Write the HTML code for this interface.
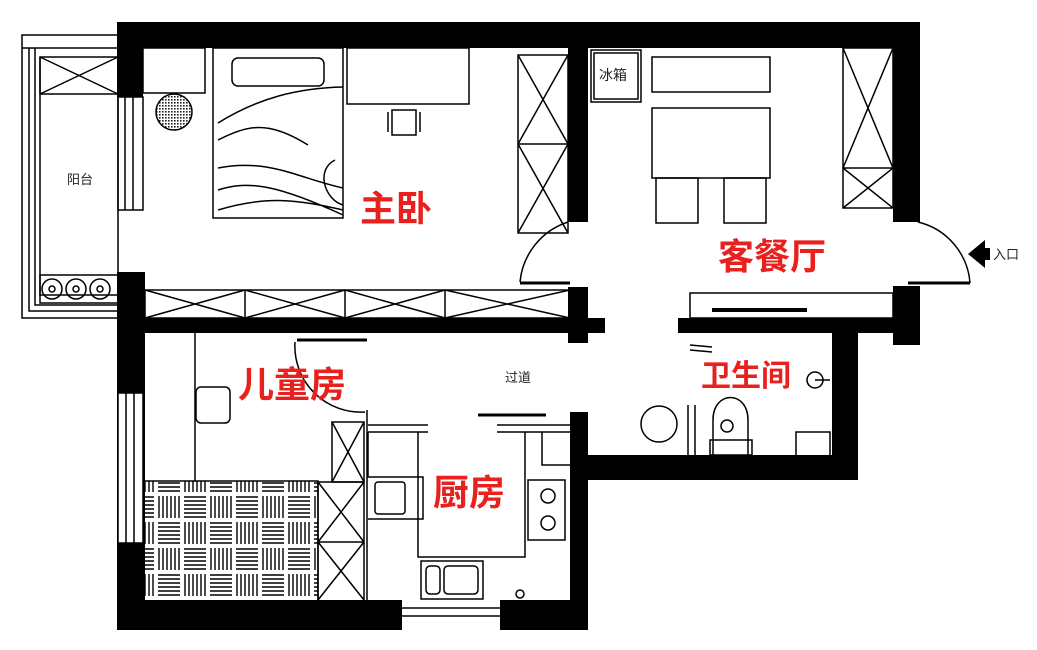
<!DOCTYPE html>
<html><head><meta charset="utf-8"><style>
html,body{margin:0;padding:0;background:#fff;}
svg{display:block}
.t{font-family:"Liberation Sans","Noto Sans CJK SC",sans-serif;}
</style></head><body>
<svg width="1037" height="650" viewBox="0 0 1037 650" xmlns="http://www.w3.org/2000/svg">
<defs>
<pattern id="dots" width="3" height="3" patternUnits="userSpaceOnUse"><rect width="3" height="3" fill="#fff"/><rect width="1.6" height="1.6" fill="#222"/></pattern>
<pattern id="rug" width="52" height="52" patternUnits="userSpaceOnUse">
<rect width="52" height="52" fill="#fff"/>
<g stroke="#000" stroke-width="1.4">
<path d="M2 3h22M2 7h22M2 11h22M2 15h22M2 19h22M2 23h22"/>
<path d="M29 2v22M33 2v22M37 2v22M41 2v22M45 2v22M49 2v22"/>
<path d="M3 28v22M7 28v22M11 28v22M15 28v22M19 28v22M23 28v22"/>
<path d="M28 29h22M28 33h22M28 37h22M28 41h22M28 45h22M28 49h22"/>
</g></pattern>
</defs>
<g fill="none" stroke="#000" stroke-width="1.5">
<rect x="22" y="35" width="96" height="283"/>
<path d="M22 48h96M29 48v263h89M35 48v257h83M40 57v238h78"/>
<rect x="40" y="57" width="78" height="37"/><path d="M40 57l78 37M118 57l-78 37"/>
<rect x="40" y="275" width="78" height="28"/>
<circle cx="52" cy="289" r="10"/><circle cx="52" cy="289" r="3"/>
<circle cx="76" cy="289" r="10"/><circle cx="76" cy="289" r="3"/>
<circle cx="100" cy="289" r="10"/><circle cx="100" cy="289" r="3"/>
<rect x="118" y="97" width="25" height="113"/><path d="M125 97v113M133 97v113"/>
<rect x="143" y="48" width="62" height="45"/>
<circle cx="174" cy="112" r="18" fill="url(#dots)"/>
<rect x="213" y="48" width="130" height="170"/>
<rect x="232" y="58" width="92" height="28" rx="6"/>
<path d="M218 123c40-25 80-35 125-36M218 140c30-15 50-20 90 5M218 168c50-10 80 10 125 20M218 190c30-10 60-5 125 25M218 210c50-15 80-10 125 0M335 160c-20 10 -10 40 8 45"/>
<rect x="347" y="48" width="122" height="56"/>
<path d="M392 110h24v25h-24zM388 112v20M420 112v20"/>
<rect x="518" y="55" width="50" height="178"/><path d="M518 55l50 89M568 55l-50 89M518 144h50M518 144l50 89M568 144l-50 89"/>
<rect x="843" y="48" width="50" height="160"/><path d="M843 48l50 120M893 48l-50 120M843 168h50M843 168l50 40M893 168l-50 40"/>
<rect x="591" y="50" width="50" height="52"/><rect x="594" y="53" width="44" height="46"/>
<rect x="652" y="57" width="118" height="35"/>
<rect x="652" y="108" width="118" height="70"/>
<rect x="656" y="178" width="42" height="45"/><rect x="724" y="178" width="42" height="45"/>
<rect x="145" y="290" width="425" height="28"/>
<path d="M145 290l100 28M245 290l-100 28M245 290v28M245 290l100 28M345 290l-100 28M345 290v28M345 290l100 28M445 290l-100 28M445 290v28M445 290l125 28M570 290l-125 28"/>
<path d="M568 222A70 70 0 0 0 520 282"/><path d="M520 283h50" stroke-width="3"/>
<path d="M918 222A68 68 0 0 1 970 283"/><path d="M908 283h62" stroke-width="3"/>
<rect x="690" y="293" width="203" height="25"/>
<path d="M712 310h95" stroke-width="4"/>
<path d="M195 333v148"/>
<rect x="196" y="387" width="34" height="36" rx="5"/>
<path d="M297 340h70" stroke-width="3"/>
<path d="M295 342A66 66 0 0 0 365 412"/>
<rect x="143" y="481" width="175" height="120" fill="url(#rug)"/>
<rect x="332" y="422" width="32" height="60"/><path d="M332 422l32 60M364 422l-32 60"/>
<rect x="318" y="482" width="46" height="119"/><path d="M318 482l46 60M364 482l-46 60M318 542h46M318 542l46 58M364 542l-46 58"/>
<path d="M367 410v190"/>
<path d="M368 425h60M368 432h60M368 432v45h35M368 477h55v42h-55"/>
<rect x="375" y="482" width="30" height="32" rx="3"/>
<path d="M418 432v125h107v-125"/>
<path d="M478 415h68" stroke-width="3"/>
<path d="M497 425h75M497 432h75M542 432v33h30"/>
<rect x="528" y="480" width="37" height="60"/><circle cx="548" cy="496" r="7"/><circle cx="548" cy="523" r="7"/>
<rect x="421" y="561" width="62" height="38"/><rect x="426" y="566" width="14" height="28" rx="4"/><rect x="444" y="566" width="34" height="28" rx="4"/>
<circle cx="520" cy="594" r="4"/>
<path d="M402 608h98M402 616h98"/>
<circle cx="659" cy="424" r="18"/>
<path d="M688 405v50M695 405v50"/>
<path d="M713 455v-35c0-30 35-30 35 0v35"/><rect x="710" y="440" width="42" height="15"/><circle cx="727" cy="426" r="6"/>
<rect x="796" y="432" width="34" height="24"/>
<circle cx="815" cy="380" r="8"/><path d="M815 380h15"/>
<path d="M690 345l22 2M690 350l22 2"/>
</g>
<g fill="#000">
<rect x="117" y="22" width="803" height="26"/>
<rect x="117" y="22" width="26" height="75"/>
<rect x="117" y="272" width="28" height="358"/>
<rect x="143" y="318" width="462" height="15"/>
<rect x="568" y="48" width="20" height="174"/>
<rect x="568" y="287" width="20" height="56"/>
<rect x="893" y="48" width="27" height="174"/>
<rect x="893" y="286" width="27" height="59"/>
<rect x="678" y="318" width="242" height="15"/>
<rect x="832" y="318" width="26" height="162"/>
<rect x="570" y="455" width="288" height="25"/>
<rect x="570" y="412" width="18" height="218"/>
<rect x="117" y="600" width="285" height="30"/>
<rect x="500" y="600" width="88" height="30"/>
<path d="M985 240l-17 14 17 14z"/><rect x="984" y="248" width="6" height="12"/>
</g>
<rect x="118" y="393" width="25" height="150" fill="#fff" stroke="#000" stroke-width="1.5"/>
<path d="M126 393v150M134 393v150" stroke="#000" stroke-width="1.5"/>
<g class="t">
<text x="360" y="221" font-size="36" font-weight="bold" fill="#e8201e">主卧</text>
<text x="718" y="269" font-size="36" font-weight="bold" fill="#e8201e">客餐厅</text>
<text x="238" y="397" font-size="36" font-weight="bold" fill="#e8201e">儿童房</text>
<text x="433" y="505" font-size="36" font-weight="bold" fill="#e8201e">厨房</text>
<text x="701" y="386" font-size="30" font-weight="bold" fill="#e8201e">卫生间</text>
<text x="67" y="184" font-size="13" fill="#222">阳台</text>
<text x="599" y="80" font-size="14" fill="#222">冰箱</text>
<text x="505" y="382" font-size="13" fill="#222">过道</text>
<text x="993" y="259" font-size="13" fill="#222">入口</text>
</g>
</svg>
</body></html>
